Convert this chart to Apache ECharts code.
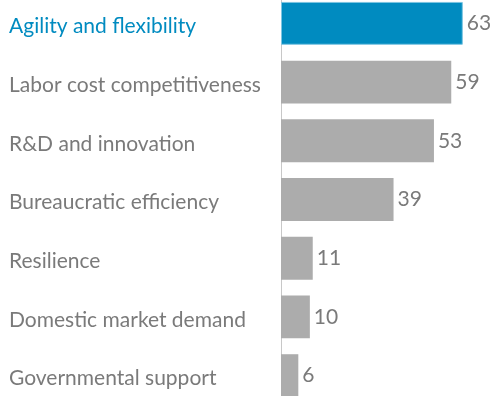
<!DOCTYPE html>
<html>
<head>
<meta charset="utf-8">
<script src="https://cdn.jsdelivr.net/npm/echarts@6/dist/echarts.min.js"></script>
<style>
html,body{margin:0;padding:0;background:#fff;}
#chart{width:493px;height:396px;}
</style>
</head>
<body>
<div id="chart"></div>
<script>
// Factors, top to bottom, with their scores
const categories = [
  "Agility and flexibility",
  "Labor cost competitiveness",
  "R&D and innovation",
  "Bureaucratic efficiency",
  "Resilience",
  "Domestic market demand",
  "Governmental support"
];
const values = [63, 59, 53, 39, 11, 10, 6];
const highlightIndex = 0;

const BLUE = "#008bc0";
const GREY = "#acacac";
const TEXT = "#7a7a7a";

const labelFont = { fontFamily: "Lato", fontSize: 21, padding: [6, 0, 0, 0] };

const chart = echarts.init(document.getElementById("chart"));
chart.setOption({
  animation: false,
  grid: {
    left: 281, right: 10, top: -6, bottom: -9,
    containLabel: false, outerBoundsMode: "none"
  },
  xAxis: {
    type: "value", min: 0, max: 70,
    show: false
  },
  yAxis: {
    type: "category",
    inverse: true,
    data: categories,
    axisLine: { show: true, lineStyle: { color: "#c8c8c8", width: 1 } },
    axisTick: { show: false },
    axisLabel: {
      align: "left",
      margin: 272,
      fontFamily: "Lato",
      fontSize: 21,
      formatter: (val, idx) => (idx === highlightIndex ? `{hl|${val}}` : `{n|${val}}`),
      rich: {
        hl: Object.assign({ color: BLUE }, labelFont),
        n: Object.assign({ color: TEXT }, labelFont)
      }
    }
  },
  series: [{
    type: "bar",
    barCategoryGap: "27%",
    data: values.map((v, i) => ({
      value: v,
      itemStyle: i === highlightIndex
        ? { color: BLUE, borderColor: "#7cc5e2", borderWidth: 1 }
        : { color: GREY }
    })),
    label: {
      show: true,
      position: "right",
      distance: 4,
      color: TEXT,
      fontFamily: "Lato",
      fontSize: 21
    }
  }]
});
</script>
</body>
</html>
